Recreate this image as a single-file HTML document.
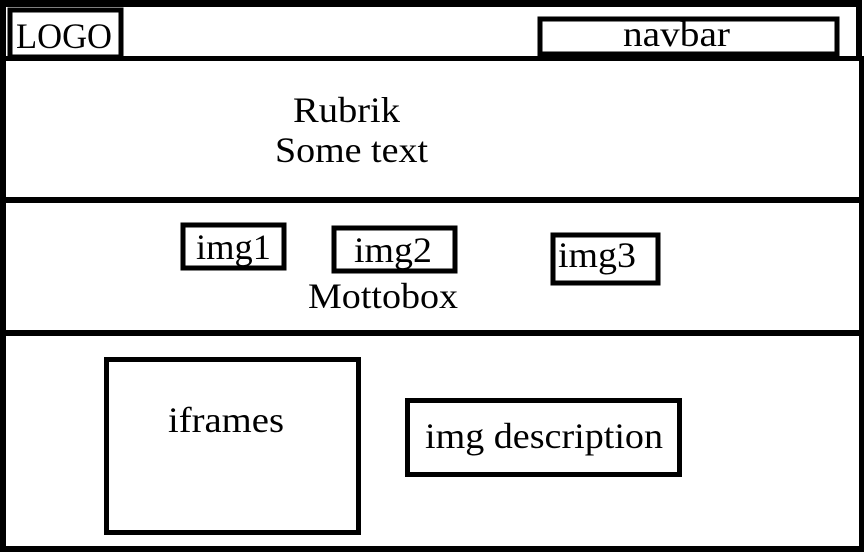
<!DOCTYPE html>
<html><head><style>
html,body{margin:0;padding:0;background:#fff;width:867px;height:558px;overflow:hidden}
svg{display:block}
text{font-family:"Liberation Serif",serif;fill:#000}
</style></head><body>
<svg width="867" height="558" xmlns="http://www.w3.org/2000/svg">
<g fill="#000">
<rect x="0" y="0" width="862" height="7"/>
<rect x="0" y="0" width="6" height="552"/>
<rect x="856" y="0" width="6" height="60"/>
<rect x="859" y="56" width="5" height="496"/>
<rect x="0" y="56" width="864" height="5"/>
<rect x="0" y="197" width="864" height="6"/>
<rect x="0" y="330" width="864" height="6"/>
<rect x="0" y="546" width="864" height="6"/>
</g>
<g fill="none" stroke="#000">
<rect x="10" y="10" width="111" height="47" stroke-width="5"/>
<rect x="540" y="19" width="297" height="35" stroke-width="5"/>
<rect x="183" y="225" width="101" height="43" stroke-width="5"/>
<rect x="334" y="228" width="121" height="43" stroke-width="5"/>
<rect x="553" y="235" width="105" height="48" stroke-width="5"/>
<rect x="106.5" y="359.5" width="252" height="173" stroke-width="5"/>
<rect x="407.5" y="400.5" width="272" height="74" stroke-width="5"/>
</g>
<g font-size="36">
<text x="16" y="48" textLength="96" lengthAdjust="spacingAndGlyphs">LOGO</text>
<text x="623" y="46" textLength="107" lengthAdjust="spacingAndGlyphs">navbar</text>
<text x="293" y="122" textLength="107" lengthAdjust="spacingAndGlyphs">Rubrik</text>
<text x="275" y="162" textLength="153" lengthAdjust="spacingAndGlyphs">Some text</text>
<text x="196" y="259" textLength="75" lengthAdjust="spacingAndGlyphs">img1</text>
<text x="354" y="262" textLength="78" lengthAdjust="spacingAndGlyphs">img2</text>
<text x="558" y="267" textLength="78" lengthAdjust="spacingAndGlyphs">img3</text>
<text x="308" y="308" textLength="150" lengthAdjust="spacingAndGlyphs">Mottobox</text>
<text x="168" y="432" textLength="116" lengthAdjust="spacingAndGlyphs">iframes</text>
<text x="425" y="448" textLength="238" lengthAdjust="spacingAndGlyphs">img description</text>
</g>
</svg>
</body></html>
